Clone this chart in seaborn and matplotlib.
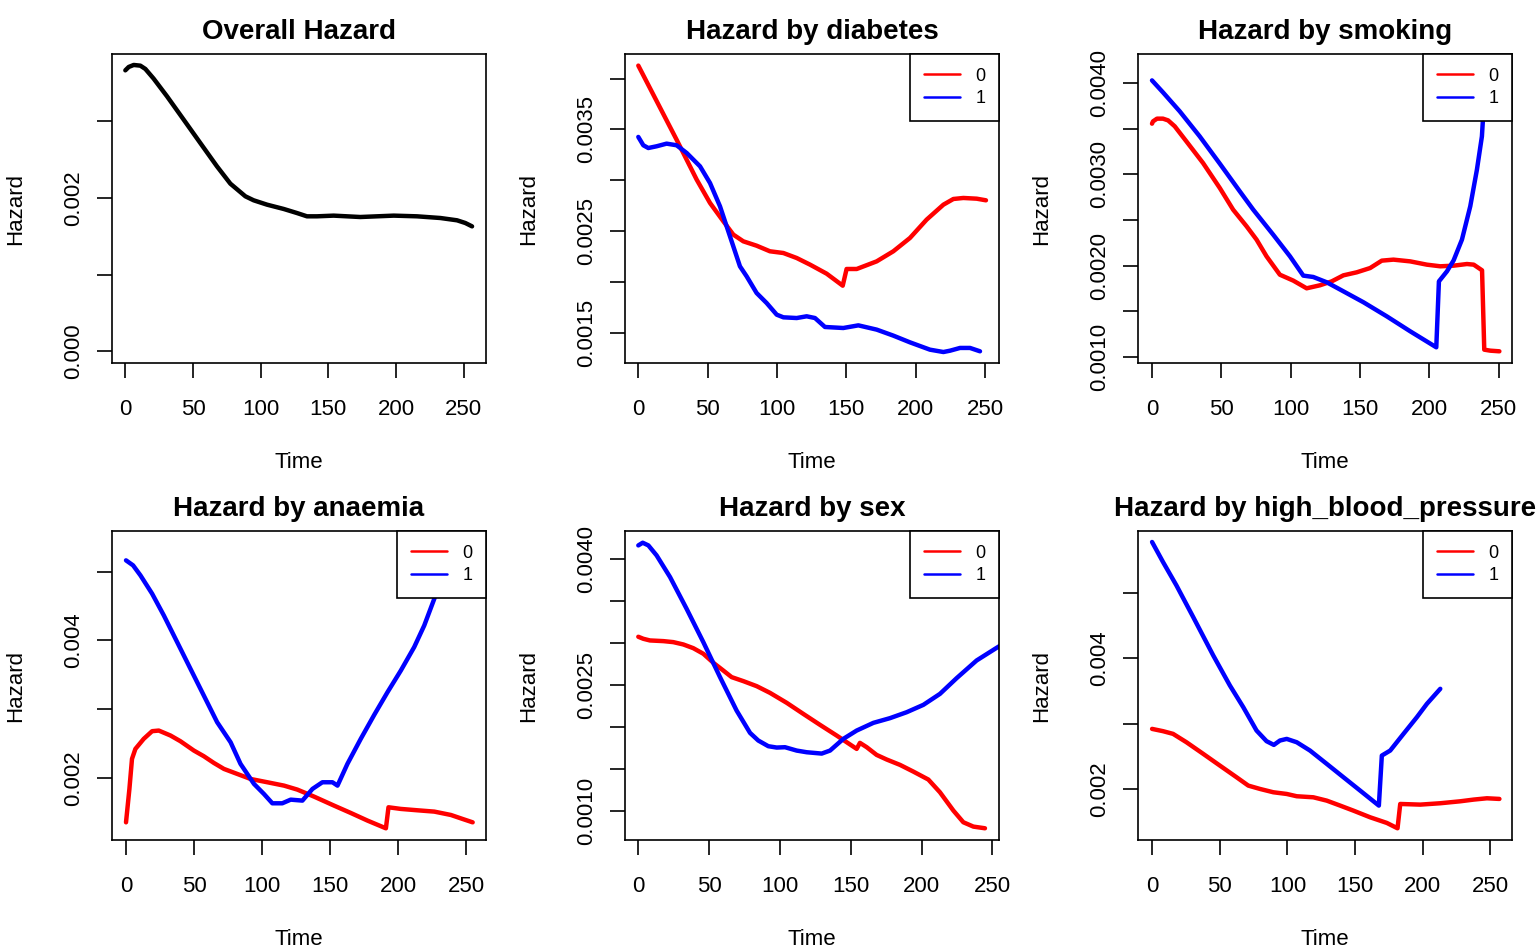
import matplotlib
matplotlib.use("Agg")
import matplotlib.pyplot as plt
import seaborn as sns

# ---- data ----
overall_t = [0, 2.5, 6.2, 11.1, 14.8, 20.9, 30.8, 43.1, 55.4, 67.7, 77.6, 88.7, 94.8, 104.7,
             117.0, 126.8, 134.2, 141.6, 153.9, 173.6, 198.3, 215.5, 232.8, 245.1, 251.2, 256.2]
overall_h = [0.003665, 0.003709, 0.003735, 0.003726, 0.003683, 0.003557, 0.003326, 0.003022,
             0.002717, 0.002413, 0.002187, 0.002022, 0.001970, 0.001913, 0.001857, 0.001804,
             0.001761, 0.001761, 0.001770, 0.001752, 0.001770, 0.001761, 0.001739, 0.001709,
             0.001674, 0.001630]

diab0_t = [0, 27.6, 42.1, 51.7, 61.3, 68.5, 75.7, 85.3, 94.9, 104.6, 114.2, 123.8, 135.8, 147.4,
           150.2, 157.5, 171.9, 183.9, 195.9, 207.9, 220.0, 227.2, 234.4, 244.0, 250.7]
diab0_h = [0.004128, 0.003400, 0.003007, 0.002778, 0.002598, 0.002467, 0.002401, 0.002358,
           0.002303, 0.002286, 0.002237, 0.002172, 0.002083, 0.001965, 0.002129, 0.002129,
           0.002204, 0.002303, 0.002434, 0.002614, 0.002761, 0.002817, 0.002827, 0.002820,
           0.002804]
diab1_t = [0, 3.6, 7.2, 13.2, 20.4, 27.6, 34.9, 44.5, 51.7, 58.9, 66.1, 73.3, 78.1, 85.3, 92.5,
           99.8, 104.6, 114.2, 121.4, 127.4, 134.6, 147.8, 158.7, 171.9, 183.9, 195.9, 210.3,
           220.0, 224.8, 232.0, 239.2, 246.4]
diab1_h = [0.003427, 0.003345, 0.003318, 0.003335, 0.003361, 0.003345, 0.003269, 0.003138,
           0.002974, 0.002745, 0.002450, 0.002155, 0.002057, 0.001893, 0.001795, 0.001680,
           0.001654, 0.001647, 0.001664, 0.001647, 0.001559, 0.001549, 0.001575, 0.001533,
           0.001474, 0.001408, 0.001336, 0.001313, 0.001326, 0.001353, 0.001353, 0.001320]

smok0_t = [0, 0.7, 3.6, 7.9, 11.6, 16.4, 24.8, 36.8, 48.9, 58.5, 68.2, 75.4, 82.6, 92.2, 101.9,
           111.5, 121.1, 129.6, 138.0, 147.6, 157.3, 165.7, 174.1, 186.2, 198.2, 207.9, 217.5,
           227.1, 232.0, 238.0, 239.6, 244.0, 250.5]
smok0_h = [0.003555, 0.003580, 0.003610, 0.003610, 0.003591, 0.003526, 0.003361, 0.003124,
           0.002850, 0.002613, 0.002431, 0.002285, 0.002102, 0.001901, 0.001836, 0.001752,
           0.001785, 0.001828, 0.001894, 0.001927, 0.001974, 0.002055, 0.002066, 0.002047,
           0.002011, 0.001993, 0.002000, 0.002018, 0.002011, 0.001949, 0.001080, 0.001069,
           0.001062]
smok1_t = [0, 7.9, 20.0, 34.4, 48.9, 63.3, 73.0, 87.4, 99.5, 109.1, 116.3, 126.0, 138.0, 152.5,
           169.3, 186.2, 205.0, 206.9, 212.7, 217.5, 223.5, 229.5, 234.3, 237.9, 241.0]
smok1_h = [0.004029, 0.003898, 0.003690, 0.003416, 0.003117, 0.002814, 0.002613, 0.002339,
           0.002102, 0.001891, 0.001876, 0.001818, 0.001719, 0.001599, 0.001445, 0.001281,
           0.001106, 0.001828, 0.001938, 0.002058, 0.002285, 0.002650, 0.003051, 0.003416,
           0.004190]

anae0_t = [0, 2.5, 4.4, 6.9, 13.0, 19.2, 24.1, 32.7, 40.0, 49.9, 57.2, 64.6, 72.0, 81.8, 91.6,
           103.9, 116.2, 126.0, 138.3, 153.0, 165.3, 177.6, 191.1, 193.0, 202.1, 214.4, 226.7,
           238.9, 247.5, 254.9]
anae0_h = [0.001354, 0.001840, 0.002277, 0.002422, 0.002568, 0.002680, 0.002689, 0.002617,
           0.002534, 0.002398, 0.002316, 0.002218, 0.002131, 0.002058, 0.001985, 0.001937,
           0.001888, 0.001830, 0.001728, 0.001597, 0.001490, 0.001379, 0.001267, 0.001573,
           0.001549, 0.001529, 0.001510, 0.001461, 0.001403, 0.001354]
anae1_t = [0, 5.2, 10.6, 19.2, 27.8, 37.6, 47.4, 57.2, 67.0, 76.9, 84.2, 94.1, 101.4, 107.6,
           114.9, 121.1, 129.7, 137.1, 144.4, 151.8, 155.5, 162.8, 172.6, 182.5, 192.3, 202.1,
           211.9, 219.3, 226.7, 232.5, 238.0]
anae1_h = [0.005165, 0.005092, 0.004947, 0.004680, 0.004364, 0.003976, 0.003587, 0.003199,
           0.002811, 0.002519, 0.002204, 0.001913, 0.001767, 0.001631, 0.001631, 0.001684,
           0.001670, 0.001840, 0.001937, 0.001937, 0.001888, 0.002204, 0.002568, 0.002917,
           0.003248, 0.003563, 0.003903, 0.004218, 0.004607, 0.005000, 0.005420]

sex0_t = [0, 3.5, 8.2, 17.7, 24.7, 31.8, 38.8, 45.9, 53.0, 60.0, 65.9, 74.2, 83.6, 93.0, 104.8,
          116.5, 128.3, 140.1, 154.2, 156.5, 161.3, 168.3, 175.4, 184.8, 194.2, 204.8, 213.0,
          222.5, 229.5, 236.6, 244.8]
sex0_h = [0.003076, 0.003052, 0.003032, 0.003024, 0.003012, 0.002984, 0.002940, 0.002873,
          0.002765, 0.002673, 0.002594, 0.002546, 0.002486, 0.002406, 0.002287, 0.002155,
          0.002024, 0.001896, 0.001737, 0.001809, 0.001757, 0.001665, 0.001610, 0.001546,
          0.001466, 0.001371, 0.001219, 0.001000, 0.000861, 0.000809, 0.000789]
sex1_t = [0, 3.1, 7.1, 12.9, 22.4, 34.1, 45.9, 57.7, 69.4, 78.9, 84.7, 91.8, 97.7, 103.6, 111.8,
          118.9, 129.5, 135.4, 144.8, 154.2, 166.0, 177.7, 189.5, 201.3, 213.0, 224.8, 238.9,
          251.9, 257.0]
sex1_h = [0.004167, 0.004199, 0.004167, 0.004048, 0.003789, 0.003410, 0.003012, 0.002594,
          0.002195, 0.001928, 0.001837, 0.001769, 0.001753, 0.001757, 0.001717, 0.001697,
          0.001681, 0.001717, 0.001857, 0.001956, 0.002048, 0.002104, 0.002175, 0.002263,
          0.002394, 0.002582, 0.002793, 0.002932, 0.002985]

hbp0_t = [0, 8.1, 15.5, 25.4, 37.8, 50.1, 62.4, 71.1, 79.7, 89.6, 99.5, 106.9, 119.2, 129.1,
          139.0, 148.8, 161.2, 173.5, 181.4, 183.4, 198.2, 213.0, 227.8, 237.7, 247.5, 256.7]
hbp0_h = [0.002918, 0.002883, 0.002842, 0.002714, 0.002536, 0.002357, 0.002179, 0.002051,
          0.002000, 0.001949, 0.001923, 0.001888, 0.001872, 0.001821, 0.001745, 0.001668,
          0.001566, 0.001480, 0.001398, 0.001770, 0.001760, 0.001781, 0.001811, 0.001837,
          0.001857, 0.001847]
hbp1_t = [0, 8.1, 18.0, 30.4, 45.2, 57.5, 67.4, 77.2, 84.6, 90.0, 94.5, 99.5, 106.9, 116.7,
          129.1, 141.4, 153.8, 167.6, 169.8, 176.0, 185.8, 195.7, 203.1, 213.0]
hbp1_h = [0.005776, 0.005469, 0.005112, 0.004628, 0.004041, 0.003582, 0.003250, 0.002893,
          0.002730, 0.002673, 0.002740, 0.002765, 0.002714, 0.002587, 0.002383, 0.002179,
          0.001974, 0.001745, 0.002510, 0.002587, 0.002842, 0.003097, 0.003301, 0.003531]

x_ticks = [0, 50, 100, 150, 200, 250]

titles = ["Overall Hazard", "Hazard by diabetes", "Hazard by smoking",
          "Hazard by anaemia", "Hazard by sex", "Hazard by high_blood_pressure"]

y_ticks = [
    [0.000, 0.001, 0.002, 0.003],
    [0.0015, 0.0020, 0.0025, 0.0030, 0.0035, 0.0040],
    [0.0010, 0.0015, 0.0020, 0.0025, 0.0030, 0.0035, 0.0040],
    [0.002, 0.003, 0.004, 0.005],
    [0.0010, 0.0015, 0.0020, 0.0025, 0.0030, 0.0035, 0.0040],
    [0.002, 0.003, 0.004, 0.005],
]
y_labels = [
    ["0.000", "", "0.002", ""],
    ["0.0015", "", "0.0025", "", "0.0035", ""],
    ["0.0010", "", "0.0020", "", "0.0030", "", "0.0040"],
    ["0.002", "", "0.004", ""],
    ["0.0010", "", "", "0.0025", "", "", "0.0040"],
    ["0.002", "", "0.004", ""],
]

x_lims = [(-9.85, 266.5), (-9.6, 260.1), (-10.1, 259.6),
          (-10.3, 264.7), (-9.4, 254.7), (-10.4, 266.0)]
y_lims = [(-0.000152, 0.003878), (0.001205, 0.004242), (0.000934, 0.004318),
          (0.001097, 0.005592), (0.000649, 0.004339), (0.001219, 0.005944)]

groups = [
    None,
    [(diab0_t, diab0_h), (diab1_t, diab1_h)],
    [(smok0_t, smok0_h), (smok1_t, smok1_h)],
    [(anae0_t, anae0_h), (anae1_t, anae1_h)],
    [(sex0_t, sex0_h), (sex1_t, sex1_h)],
    [(hbp0_t, hbp0_h), (hbp1_t, hbp1_h)],
]
group_names = ["0", "1"]
group_colors = ["#FF0000", "#0000FF"]

# ---- styling ----
sns.set_style("white")
plt.rcParams["font.family"] = ["Liberation Sans", "DejaVu Sans"]
plt.rcParams["text.color"] = "black"
plt.rcParams["axes.labelcolor"] = "black"

W, H = 1540, 951
fig = plt.figure(figsize=(W / 100, H / 100), dpi=100)

col_left = [112, 625, 1138]
row_top = [54, 531]
ax_w, ax_h = 374, 309

line_kw = dict(linewidth=3.2, solid_capstyle="round", solid_joinstyle="round")

for i in range(6):
    r, c = divmod(i, 3)
    left = col_left[c] / W
    bottom = 1 - (row_top[r] + ax_h) / H
    ax = fig.add_axes([left, bottom, ax_w / W, ax_h / H])

    if groups[i] is None:
        sns.lineplot(x=overall_t, y=overall_h, ax=ax, color="black",
                     sort=False, estimator=None, **line_kw)
    else:
        for (t, h), name, col in zip(groups[i], group_names, group_colors):
            sns.lineplot(x=t, y=h, ax=ax, color=col, label=name,
                         sort=False, estimator=None, **line_kw)
        leg = ax.legend(loc="upper right", borderaxespad=0, fancybox=False,
                        edgecolor="black", framealpha=1, fontsize=13,
                        handlelength=2.0, handletextpad=0.85, borderpad=0.75,
                        labelspacing=0.3)
        leg.get_frame().set_linewidth(1.2)
        leg.set_zorder(5)
        for hl in leg.get_lines():
            hl.set_linewidth(1.8)

    ax.set_xlim(*x_lims[i])
    ax.set_ylim(*y_lims[i])
    ax.set_xticks(x_ticks)
    ax.set_xticklabels([str(v) for v in x_ticks])
    ax.set_yticks(y_ticks[i])
    ax.set_yticklabels(y_labels[i], rotation=90, va="center")

    ax.tick_params(axis="both", direction="out", length=10.8, width=1.2,
                   labelsize=16, color="black", labelcolor="black",
                   bottom=True, left=True, top=False, right=False)
    ax.tick_params(axis="x", pad=15)
    ax.tick_params(axis="y", pad=9)
    for s in ax.spines.values():
        s.set_visible(True)
        s.set_color("black")
        s.set_linewidth(1.2)

    ax.set_title(titles[i], fontsize=20, fontweight="bold", pad=11, color="black")
    ax.set_xlabel("Time", fontsize=16, labelpad=23)
    ax.set_ylabel("Hazard", fontsize=16, labelpad=27)

fig.savefig("out.png", dpi=100)
